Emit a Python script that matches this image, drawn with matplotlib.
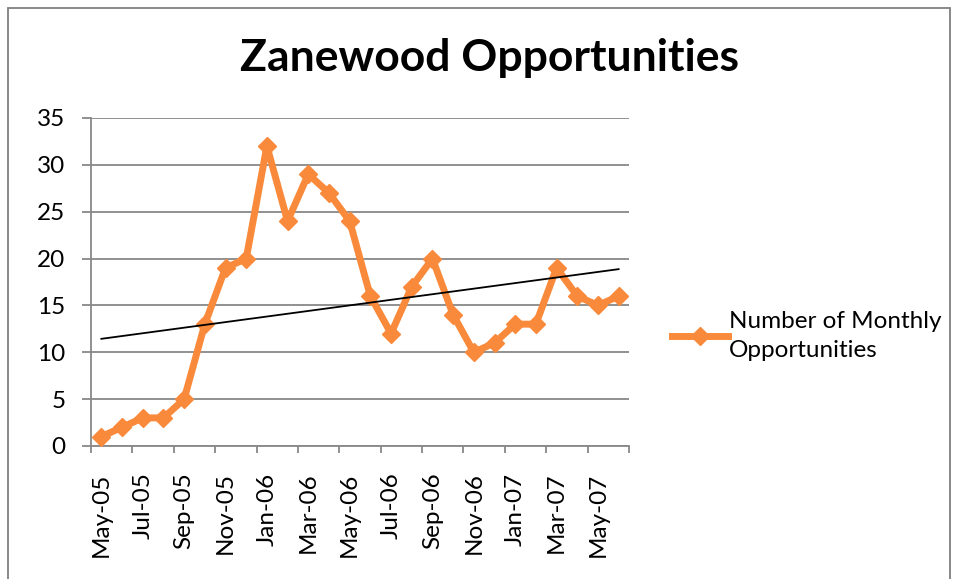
import numpy as np
import matplotlib
matplotlib.use("Agg")
import matplotlib.pyplot as plt
from matplotlib.patches import Rectangle

# monthly opportunities, May-05 .. Jun-07
months = ["May-05", "Jun-05", "Jul-05", "Aug-05", "Sep-05", "Oct-05", "Nov-05", "Dec-05",
          "Jan-06", "Feb-06", "Mar-06", "Apr-06", "May-06", "Jun-06", "Jul-06", "Aug-06",
          "Sep-06", "Oct-06", "Nov-06", "Dec-06", "Jan-07", "Feb-07", "Mar-07", "Apr-07",
          "May-07", "Jun-07"]
opportunities = [1, 2, 3, 3, 5, 13, 19, 20, 32, 24, 29, 27, 24, 16, 12, 17,
                 20, 14, 10, 11, 13, 13, 19, 16, 15, 16]
y_ticks = [0, 5, 10, 15, 20, 25, 30, 35]

plt.rcParams['font.family'] = ['Lato', 'DejaVu Sans']

orange = '#F98A3B'
grid_gray = '#888888'

fig = plt.figure(figsize=(9.59, 5.79), dpi=100)
ax = fig.add_axes([91/959, 1 - 446/579, (629 - 91)/959, (446 - 118)/579])

x = np.arange(len(months))
ax.plot(x, opportunities, color=orange, lw=5, marker='D', ms=9,
        label='Number of Monthly\nOpportunities', zorder=3)

# linear trendline (Excel style, fitted on category index)
slope, icpt = np.polyfit(x, opportunities, 1)
ax.plot(x, slope * x + icpt, color='black', lw=1.3, zorder=4)

ax.set_xlim(-0.5, len(months) - 0.5)
ax.set_ylim(0, 35)
ax.set_yticks(y_ticks)
ax.yaxis.grid(True, color=grid_gray, lw=1.3)
ax.set_axisbelow(True)

# labels every 2 months, tick marks on category boundaries
ax.set_xticks(x[::2])
ax.set_xticklabels(months[::2], rotation=90)
ax.set_xticks(np.arange(-0.5, len(months), 2), minor=True)
ax.tick_params(axis='x', which='major', length=0, pad=19)
ax.tick_params(axis='x', which='minor', length=5, width=1.3, color=grid_gray)
ax.tick_params(axis='y', length=6.5, width=1.3, color=grid_gray, pad=12)
ax.tick_params(labelsize=17.5)

for s in ['top', 'right']:
    ax.spines[s].set_visible(False)
for s in ['left', 'bottom']:
    ax.spines[s].set_color(grid_gray)
    ax.spines[s].set_linewidth(1.3)

fig.text(489/959, 1 - 58/579, 'Zanewood Opportunities', ha='center', va='center',
         fontsize=32, fontweight='bold')

leg = fig.legend(loc='center left', bbox_to_anchor=(650/959, 1 - 336/579), frameon=False,
                 fontsize=17.5, handlelength=2.3, handletextpad=0.05, markerscale=1.0)
for t in leg.get_texts():
    t.set_linespacing(1.45)

fig.patches.append(Rectangle((8/959, -0.05), (950 - 8)/959, 1.05 - 8/579,
                             transform=fig.transFigure, fill=False,
                             edgecolor='#7f7f7f', lw=1.3))

fig.savefig('out.png', dpi=100)
